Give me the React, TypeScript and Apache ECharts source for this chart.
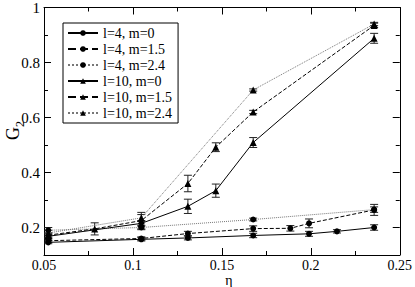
import React, { useEffect, useRef } from "react";
import * as echarts from "echarts";

// l=4 series (circles)
const etaL4m0 = [0.0524, 0.1047, 0.1309, 0.1676, 0.199, 0.2147, 0.2356];
const gL4m0 = [0.146, 0.157, 0.162, 0.171, 0.177, 0.186, 0.2];
const errL4m0 = [0.005, 0.006, 0.007, 0.008, 0.009, 0.006, 0.01];

const etaL4m15 = [0.0524, 0.1047, 0.1309, 0.1676, 0.1885, 0.199, 0.2356];
const gL4m15 = [0.152, 0.16, 0.178, 0.196, 0.197, 0.215, 0.264];
const errL4m15 = [0.006, 0.006, 0.008, 0.01, 0.01, 0.016, 0.02];

const etaL4m24 = [0.0524, 0.1047, 0.1676, 0.2356];
const gL4m24 = [0.19, 0.2, 0.229, 0.265];
const errL4m24 = [0.01, 0.008, 0.005, 0.01];

// l=10 series (triangles)
const etaL10m0 = [0.0524, 0.1047, 0.1309, 0.1466, 0.1676, 0.2356];
const gL10m0 = [0.168, 0.215, 0.277, 0.334, 0.509, 0.888];
const errL10m0 = [0.008, 0.01, 0.026, 0.024, 0.018, 0.018];

const etaL10m15 = [0.0524, 0.0785, 0.1047, 0.1309, 0.1466, 0.1676, 0.2356];
const gL10m15 = [0.172, 0.195, 0.225, 0.36, 0.492, 0.62, 0.935];
const errL10m15 = [0.008, 0.022, 0.03, 0.03, 0.016, 0.006, 0.008];

const etaL10m24 = [0.0524, 0.1047, 0.1676, 0.2356];
const gL10m24 = [0.18, 0.235, 0.7, 0.94];
const errL10m24 = [0.01, 0.012, 0.004, 0.006];

const seriesNames = [
  "l=4, m=0",
  "l=4, m=1.5",
  "l=4, m=2.4",
  "l=10, m=0",
  "l=10, m=1.5",
  "l=10, m=2.4",
];

const yMajor = [0.2, 0.4, 0.6, 0.8, 1];
const yMinor = [0.1, 0.3, 0.5, 0.7, 0.9];

const FONT = "Liberation Serif";

export default function App() {
  const ref = useRef<HTMLDivElement>(null);
  useEffect(() => {
    if (!ref.current) return;
    const chart = echarts.init(ref.current, undefined, { renderer: "svg" });

    const defs = [
      { name: seriesNames[0], eta: etaL4m0, g: gL4m0, err: errL4m0, sym: "circle", type: "solid", color: "#000" },
      { name: seriesNames[1], eta: etaL4m15, g: gL4m15, err: errL4m15, sym: "circle", type: "dashed", color: "#000" },
      { name: seriesNames[2], eta: etaL4m24, g: gL4m24, err: errL4m24, sym: "circle", type: "dotted", color: "#777" },
      { name: seriesNames[3], eta: etaL10m0, g: gL10m0, err: errL10m0, sym: "triangle", type: "solid", color: "#000" },
      { name: seriesNames[4], eta: etaL10m15, g: gL10m15, err: errL10m15, sym: "triangle", type: "dashed", color: "#000" },
      { name: seriesNames[5], eta: etaL10m24, g: gL10m24, err: errL10m24, sym: "triangle", type: "dotted", color: "#777" },
    ];

    const series: any[] = [];
    defs.forEach((d) => {
      series.push({
        name: d.name,
        type: "line",
        data: d.eta.map((x, i) => [x, d.g[i]]),
        symbol: d.sym,
        symbolSize: d.sym === "circle" ? 6 : 7,
        itemStyle: { color: "#000" },
        lineStyle: { color: d.color, width: 1, type: d.type },
        z: 3,
      });
      series.push({
        type: "custom",
        name: d.name + " err",
        data: d.eta.map((x, i) => [x, d.g[i] - d.err[i], d.g[i] + d.err[i]]),
        renderItem: (params: any, api: any) => {
          const x = api.value(0);
          const p1 = api.coord([x, api.value(1)]);
          const p2 = api.coord([x, api.value(2)]);
          const w = 4;
          const st = { stroke: "#222", lineWidth: 1 };
          return {
            type: "group",
            children: [
              { type: "line", shape: { x1: p1[0], y1: p1[1], x2: p2[0], y2: p2[1] }, style: st },
              { type: "line", shape: { x1: p1[0] - w, y1: p1[1], x2: p1[0] + w, y2: p1[1] }, style: st },
              { type: "line", shape: { x1: p2[0] - w, y1: p2[1], x2: p2[0] + w, y2: p2[1] }, style: st },
            ],
          };
        },
        z: 2,
      });
    });

    const lbl = { fontFamily: FONT, fontSize: 14, color: "#000" };

    chart.setOption({
      animation: false,
      grid: { left: 44, right: 13, top: 5, bottom: 32, containLabel: false },
      legend: {
        data: seriesNames,
        orient: "vertical",
        left: 63,
        top: 23,
        itemWidth: 30,
        itemHeight: 7,
        itemGap: 2,
        padding: [3, 6, 3, 4],
        borderColor: "#000",
        borderWidth: 1,
        backgroundColor: "#fff",
        textStyle: { fontFamily: FONT, fontSize: 14, color: "#000" },
        inactiveColor: "#000",
      },
      xAxis: [
        {
          type: "value",
          min: 0.05,
          max: 0.25,
          interval: 0.05,
          position: "bottom",
          axisLine: { show: true, lineStyle: { color: "#000" } },
          axisTick: { show: true, inside: true, length: 7, lineStyle: { color: "#000" } },
          minorTick: { show: true, splitNumber: 2, length: 4, lineStyle: { color: "#000" } },
          axisLabel: { ...lbl, margin: 3, formatter: (v: number) => String(+v.toFixed(2)) },
          splitLine: { show: false },
        },
        {
          type: "value",
          min: 0.05,
          max: 0.25,
          interval: 0.05,
          position: "top",
          axisLine: { show: true, lineStyle: { color: "#000" } },
          axisTick: { show: true, inside: true, length: 7, lineStyle: { color: "#000" } },
          minorTick: { show: true, splitNumber: 2, length: 4, lineStyle: { color: "#000" } },
          axisLabel: { show: false },
          splitLine: { show: false },
        },
      ],
      yAxis: [
        {
          type: "value",
          min: 0.1,
          max: 1,
          interval: 0.1,
          position: "left",
          axisLine: { show: true, lineStyle: { color: "#000" } },
          axisTick: { show: true, inside: true, length: 7, customValues: yMajor, lineStyle: { color: "#000" } },
          axisLabel: { ...lbl, fontSize: 15, margin: 4, customValues: yMajor, formatter: (v: number) => String(+v.toFixed(1)) },
          splitLine: { show: false },
        },
        {
          type: "value",
          min: 0.1,
          max: 1,
          interval: 0.1,
          position: "left",
          axisLine: { show: false },
          axisTick: { show: true, inside: true, length: 4, customValues: yMinor, lineStyle: { color: "#000" } },
          axisLabel: { show: false },
          splitLine: { show: false },
        },
        {
          type: "value",
          min: 0.1,
          max: 1,
          interval: 0.1,
          position: "right",
          axisLine: { show: true, lineStyle: { color: "#000" } },
          axisTick: { show: true, inside: true, length: 7, customValues: yMajor, lineStyle: { color: "#000" } },
          axisLabel: { show: false },
          splitLine: { show: false },
        },
        {
          type: "value",
          min: 0.1,
          max: 1,
          interval: 0.1,
          position: "right",
          axisLine: { show: false },
          axisTick: { show: true, inside: true, length: 4, customValues: yMinor, lineStyle: { color: "#000" } },
          axisLabel: { show: false },
          splitLine: { show: false },
        },
      ],
      graphic: [
        {
          type: "text",
          x: 229,
          y: 273,
          style: { text: "η", fontFamily: FONT, fontSize: 14, fill: "#000", textAlign: "center", textVerticalAlign: "top" },
        },
        {
          type: "group",
          x: 4,
          y: 140,
          rotation: Math.PI / 2,
          children: [
            { type: "text", x: 0, y: 0, style: { text: "G", fontFamily: FONT, fontSize: 18, fill: "#000", textVerticalAlign: "top" } },
            { type: "text", x: 13, y: 10, style: { text: "2", fontFamily: FONT, fontSize: 12, fill: "#000", textVerticalAlign: "top" } },
          ],
        },
      ],
      series,
    });
    return () => chart.dispose();
  }, []);
  return <div ref={ref} style={{ position: "absolute", left: 0, top: 0, width: 415, height: 287 }} />;
}
